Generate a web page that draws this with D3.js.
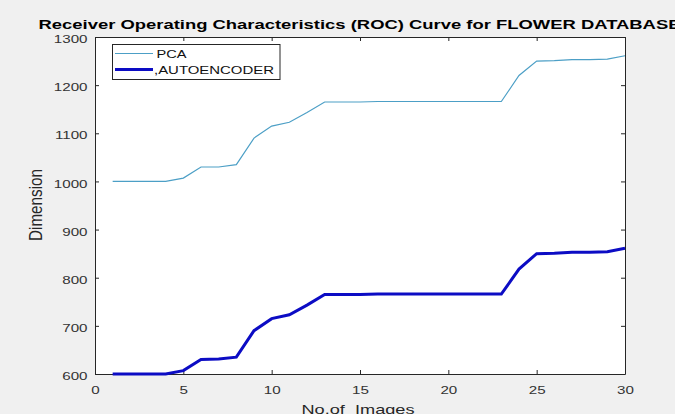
<!DOCTYPE html>
<html><head><meta charset="utf-8">
<script src="https://cdn.jsdelivr.net/npm/d3@7"></script>
<style>
html,body{margin:0;padding:0;background:#f0f0f0;}
svg{display:block;font-family:"Liberation Sans",Arial,sans-serif;}
</style></head>
<body>
<svg id="c" width="675" height="414"></svg>
<script>
const images = [1,2,3,4,5,6,7,8,9,10,11,12,13,14,15,16,17,18,19,20,21,22,23,24,25,26,27,28,29,30];
const pcaValues = [1000,1000,1000,1000,1007,1030,1030,1035,1090,1115,1123,1143,1165,1165,1165,1166,1166,1166,1166,1166,1166,1166,1166,1220,1250,1251,1253,1253,1254,1261];
const autoencoderValues = [600,600,600,600,607,630,631,635,690,715,723,743,765,765,765,766,766,766,766,766,766,766,766,818,850,851,853,853,854,861];
const xTicks = [0,5,10,15,20,25,30];
const yTicks = [600,700,800,900,1000,1100,1200,1300];
const seriesNames = ["PCA", ",AUTOENCODER"];
const seriesColors = ["#4c9fc6", "#0c0cc4"];

const svg = d3.select("#c");
const L = 95, R = 625, T = 37, B = 374;
const x = d3.scaleLinear().domain([0,30]).range([L,R]);
const y = d3.scaleLinear().domain([600,1300]).range([B,T]);
const SX = 1.32; // horizontal stretch of the reference's text

svg.append("rect").attr("x",L).attr("y",T).attr("width",R-L).attr("height",B-T).attr("fill","#fff");

const axisColor = "#262626";
const fmt = d3.format("d");
const gx = svg.append("g").attr("transform",`translate(0,${B})`)
  .call(d3.axisBottom(x).tickValues(xTicks).tickFormat(fmt).tickSizeInner(-4).tickSizeOuter(0));
const gxt = svg.append("g").attr("transform",`translate(0,${T})`)
  .call(d3.axisTop(x).tickValues(xTicks).tickSizeInner(-4).tickSizeOuter(0).tickFormat(""));
const gy = svg.append("g").attr("transform",`translate(${L},0)`)
  .call(d3.axisLeft(y).tickValues(yTicks).tickFormat(fmt).tickSizeInner(-4).tickSizeOuter(0));
const gyr = svg.append("g").attr("transform",`translate(${R},0)`)
  .call(d3.axisRight(y).tickValues(yTicks).tickSizeInner(-4).tickSizeOuter(0).tickFormat(""));
[gx,gxt,gy,gyr].forEach(g=>{
  g.selectAll(".domain").attr("stroke",axisColor).attr("stroke-width",1);
  g.selectAll(".tick line").attr("stroke",axisColor);
  g.selectAll("text").attr("fill","#333").attr("font-size",11.5).attr("font-family","Liberation Sans, Arial, sans-serif");
});
gx.selectAll(".tick text").attr("y",20.5).attr("dy",0).attr("transform",`scale(${SX},1)`);
gy.selectAll(".tick text").attr("x",-7.5/SX).attr("dy","0.49em").attr("transform",`scale(${SX},1)`);

const line = d3.line().x((d,i)=>x(images[i])).y(d=>y(d));
svg.append("path").datum(pcaValues).attr("d",line).attr("fill","none").attr("stroke",seriesColors[0]).attr("stroke-width",1.2);
svg.append("path").datum(autoencoderValues).attr("d",line).attr("fill","none").attr("stroke",seriesColors[1]).attr("stroke-width",3);

// legend
const lg = svg.append("g");
lg.append("rect").attr("x",112.5).attr("y",44.5).attr("width",167.5).attr("height",35).attr("fill","#fff").attr("stroke","#262626").attr("stroke-width",1);
const lw = [1.2,3], lLen = [30,120];
seriesNames.forEach((n,i)=>{
  const yy = 53.5 + i*16;
  lg.append("line").attr("x1",115).attr("x2",153).attr("y1",yy).attr("y2",yy).attr("stroke",seriesColors[i]).attr("stroke-width",lw[i]);
  lg.append("text").attr("x",i===0?156.5:154).attr("y",yy+4.5).attr("font-size",11.5).attr("fill","#111")
    .attr("textLength",lLen[i]).attr("lengthAdjust","spacingAndGlyphs").text(n);
});

svg.append("text").attr("x",38.5).attr("y",29).attr("font-size",12.5).attr("font-weight","bold").attr("fill","#000")
  .attr("textLength",642).attr("lengthAdjust","spacingAndGlyphs")
  .text("Receiver Operating Characteristics (ROC) Curve for FLOWER DATABASE");
svg.append("text").attr("x",301.5).attr("y",413.5).attr("font-size",13).attr("fill","#262626")
  .style("white-space","pre")
  .attr("textLength",113).attr("lengthAdjust","spacingAndGlyphs").text("No.of  Images");
svg.append("text").attr("transform","translate(42.3,205) rotate(-90) scale(1.17,1.4)").attr("text-anchor","middle")
  .attr("font-size",13).attr("fill","#262626").text("Dimension");
</script>
</body></html>
